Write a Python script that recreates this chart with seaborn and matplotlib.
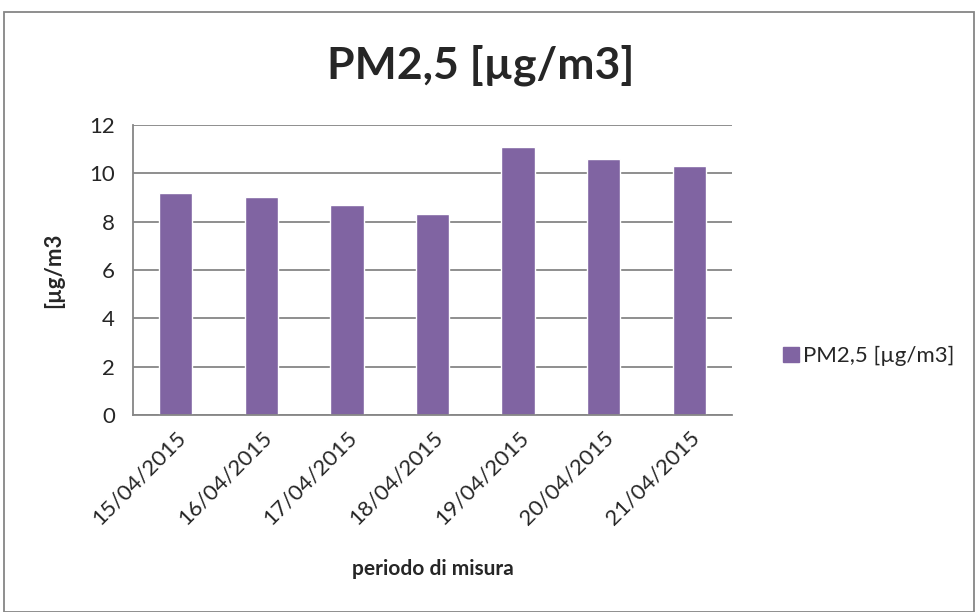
import matplotlib
matplotlib.use("Agg")
import matplotlib.pyplot as plt
import seaborn as sns
import pandas as pd
import numpy as np
from matplotlib.patches import Rectangle

# dati
date = ["15/04/2015", "16/04/2015", "17/04/2015", "18/04/2015",
        "19/04/2015", "20/04/2015", "21/04/2015"]
pm25 = [9.2, 9.0, 8.7, 8.3, 11.1, 10.6, 10.3]
serie = "PM2,5 [µg/m3]"

df = pd.DataFrame({"data": date, "valore": pm25, "serie": serie})

sns.set_style("white")
plt.rcParams["font.family"] = ["Lato", "DejaVu Sans"]

fig = plt.figure(figsize=(9.75, 6.12), dpi=100)
ax = fig.add_axes([0.1364, 0.3219, 0.6144, 0.4739])

viola = "#8064A2"
sns.barplot(data=df, x="data", y="valore", hue="serie", palette=[viola],
            width=0.39, ax=ax, legend=False, saturation=1)

ax.set_ylim(0, 12)
ax.set_xlim(-0.5, len(date) - 0.5)
ax.set_yticks(range(0, 13, 2))
ax.yaxis.grid(True, color="#868686", linewidth=1.3)
ax.set_axisbelow(True)
for s in ["top", "right"]:
    ax.spines[s].set_visible(False)
ax.spines["left"].set_color("#868686")
ax.spines["bottom"].set_color("#868686")
ax.spines["left"].set_linewidth(1.3)
ax.spines["bottom"].set_linewidth(1.3)

# tacche x ai confini delle categorie
ax.set_xticks(np.arange(-0.5, len(date), 1.0), minor=True)
ax.tick_params(axis="x", which="minor", length=7, color="#868686", width=1.3)
ax.tick_params(axis="x", which="major", length=0, pad=9)
ax.tick_params(axis="y", length=7, color="#868686", width=1.3, pad=6,
               labelsize=16)
ax.set_xticks(range(len(date)))
ax.set_xticklabels(date, rotation=45, ha="right", rotation_mode="anchor",
                   fontsize=16)

ax.set_xlabel("periodo di misura", fontsize=15, fontweight="bold", labelpad=22)
ax.set_ylabel("[µg/m3", fontsize=16, fontweight="bold", labelpad=18)
fig.text(0.493, 0.894, serie, ha="center", va="center", fontsize=32,
         fontweight="bold")

# legenda
handle = Rectangle((0, 0), 1, 1, color=viola)
fig.legend([handle], [serie], loc="center left", bbox_to_anchor=(0.783, 0.418),
           frameon=False, fontsize=16, handlelength=0.7, handleheight=0.7,
           handletextpad=0.2)

# cornice del grafico
fig.patches.append(Rectangle((0.004, 0.0), 0.995, 0.98, transform=fig.transFigure,
                             fill=False, edgecolor="#868686", linewidth=1.3))

fig.savefig("out.png", dpi=100)
